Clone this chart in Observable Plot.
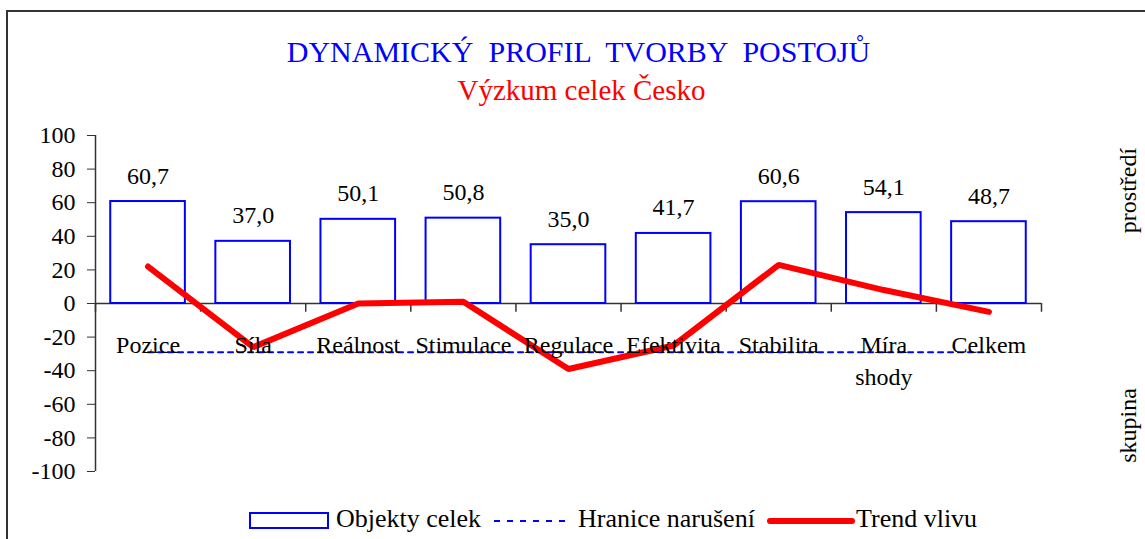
<!DOCTYPE html>
<html>
<head>
<meta charset="utf-8">
<script src="https://cdn.jsdelivr.net/npm/d3@7"></script>
<script src="https://cdn.jsdelivr.net/npm/@observablehq/plot@0.6"></script>
<style>
  html, body { margin: 0; padding: 0; background: #fff; }
  #wrap { position: relative; width: 1145px; height: 539px; overflow: hidden; font-family: "Liberation Serif", "Times New Roman", serif; }
  #frame { position: absolute; left: 6px; top: 10px; width: 1160px; height: 560px; border: 2px solid #333; box-sizing: border-box; }
  .t { position: absolute; white-space: pre; text-align: center; }
  #title { left: 0; width: 1157px; top: 37px; font-size: 30px; line-height: 30px; color: #0000FF; }
  #subtitle { left: 0; width: 1163px; top: 76px; font-size: 29px; line-height: 29px; color: #FF0000; }
  #chart { position: absolute; left: 0; top: 0; }
  .lg { position: absolute; font-size: 26px; line-height: 26px; top: 506px; color: #000; white-space: pre; }
  .sw { position: absolute; }
</style>
</head>
<body>
<div id="wrap">
  <div id="frame"></div>
  <div id="chart"></div>
  <div id="title" class="t">DYNAMICKÝ  PROFIL  TVORBY  POSTOJŮ</div>
  <div id="subtitle" class="t">Výzkum celek Česko</div>
  <div id="legend"></div>
</div>
<script>
// ---- data ----
const categories = ["Pozice", "Síla", "Reálnost", "Stimulace", "Regulace", "Efektivita", "Stabilita", "Míra\nshody", "Celkem"];
const objekty = [60.7, 37.0, 50.1, 50.8, 35.0, 41.7, 60.6, 54.1, 48.7];
const trend = [22, -26, 0, 1, -39, -25, 23, 8, -5];
const hranice = [-29, -29, -29, -29, -29, -29, -29, -29, -29];
const yTicks = [-100, -80, -60, -40, -20, 0, 20, 40, 60, 80, 100];
const xBoundaries = [0, 1, 2, 3, 4, 5, 6, 7, 8, 9];
const seriesNames = ["Objekty celek", "Hranice narušení", "Trend vlivu"];
const sideLabels = ["prostředí", "skupina"];

const rows = categories.map((c, i) => ({c, i, obj: objekty[i], trend: trend[i], hr: hranice[i]}));
const pad = 0.145;
const BLUE = "#0000FF", RED = "#FF0000", AXIS = "#333";

const chart = Plot.plot({
  width: 1145,
  height: 539,
  marginLeft: 95,
  marginRight: 104,
  marginTop: 135,
  marginBottom: 68,
  style: {fontFamily: "Liberation Serif, Times New Roman, serif", fontSize: "24px", background: "transparent", color: "#000"},
  x: {type: "linear", domain: [0, categories.length], axis: null},
  y: {domain: [-100, 100], axis: null},
  marks: [
    // y axis line + ticks + labels
    Plot.ruleX([0], {y1: -100, y2: 100, stroke: AXIS, strokeWidth: 1.5}),
    Plot.axisY({ticks: yTicks, tickSize: 8, tickPadding: 12, tickFormat: d => String(d), stroke: AXIS, fill: "#000", fontSize: 24}),
    // x axis line at zero with boundary ticks
    Plot.ruleY([0], {x1: 0, x2: categories.length, stroke: AXIS, strokeWidth: 1.5}),
    Plot.ruleX(xBoundaries, {x: d => d, y1: 0, y2: -5.2, stroke: AXIS, strokeWidth: 1.5}),
    // bars
    Plot.rectY(rows, {x1: d => d.i + pad, x2: d => d.i + 1 - pad, y1: 0, y2: "obj", fill: "white", stroke: BLUE, strokeWidth: 2}),
    // threshold dashed line
    Plot.line(rows, {x: d => d.i + 0.5, y: "hr", stroke: BLUE, strokeWidth: 2, strokeDasharray: "5,5", curve: "linear"}),
    // trend line
    Plot.line(rows, {x: d => d.i + 0.5, y: "trend", stroke: RED, strokeWidth: 6, strokeLinejoin: "miter", strokeLinecap: "round"}),
    // value labels
    Plot.text(rows, {x: d => d.i + 0.5, y: "obj", text: d => d.obj.toFixed(1).replace(".", ","), lineAnchor: "bottom", dy: -18, fill: "#000"}),
    // category labels
    Plot.text(rows, {x: d => d.i + 0.5, y: () => 0, text: "c", lineAnchor: "top", dy: 26, lineHeight: 1.35, fill: "#000"}),
    // right side labels
    Plot.text([sideLabels[0]], {frameAnchor: "top-right", dx: 87, dy: 55, rotate: -90, textAnchor: "middle", lineAnchor: "middle", fill: "#000"}),
    Plot.text([sideLabels[1]], {frameAnchor: "bottom-right", dx: 87, dy: -46, rotate: -90, textAnchor: "middle", lineAnchor: "middle", fill: "#000"})
  ]
});
document.getElementById("chart").appendChild(chart);

// ---- legend ----
const lg = document.getElementById("legend");
const NS = "http://www.w3.org/2000/svg";
function swatch(left, top, w, h, draw) {
  const s = document.createElementNS(NS, "svg");
  s.setAttribute("width", w); s.setAttribute("height", h);
  s.setAttribute("class", "sw");
  s.style.left = left + "px"; s.style.top = top + "px";
  s.innerHTML = draw;
  lg.appendChild(s);
}
function label(left, text) {
  const d = document.createElement("div");
  d.className = "lg"; d.style.left = left + "px"; d.textContent = text;
  lg.appendChild(d);
}
swatch(249, 512, 80, 17, `<rect x="1" y="1" width="78" height="15" fill="white" stroke="${BLUE}" stroke-width="2"/>`);
label(336, seriesNames[0]);
swatch(494, 516, 76, 10, `<line x1="0" y1="5" x2="76" y2="5" stroke="${BLUE}" stroke-width="2" stroke-dasharray="6,7"/>`);
label(578, seriesNames[1]);
swatch(766, 514, 90, 14, `<line x1="4" y1="7" x2="86" y2="7" stroke="${RED}" stroke-width="6" stroke-linecap="round"/>`);
label(856, seriesNames[2]);
</script>
</body>
</html>
